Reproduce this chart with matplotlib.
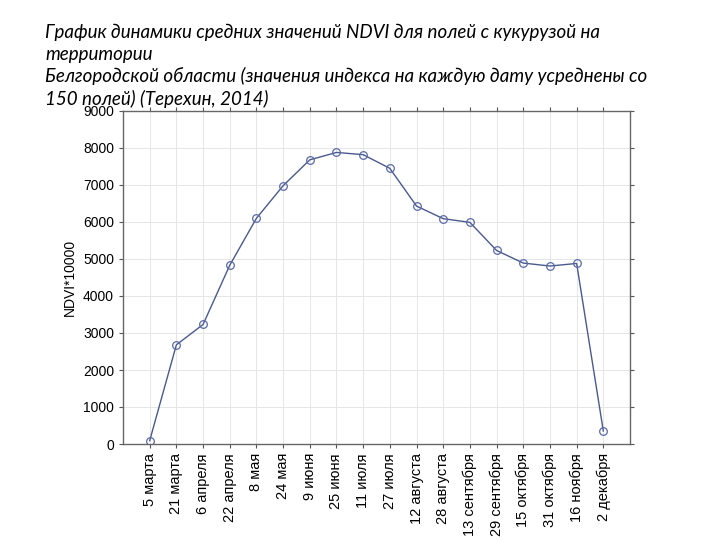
import numpy as np
import matplotlib
matplotlib.use("Agg")
import matplotlib.pyplot as plt

dates = ["5 марта", "21 марта", "6 апреля", "22 апреля", "8 мая", "24 мая",
         "9 июня", "25 июня", "11 июля", "27 июля", "12 августа", "28 августа",
         "13 сентября", "29 сентября", "15 октября", "31 октября", "16 ноября",
         "2 декабря"]
ndvi = [90, 2680, 3230, 4830, 6100, 6980, 7680, 7880, 7820, 7450, 6430,
        6090, 5990, 5230, 4890, 4810, 4880, 350]

title = ("График динамики средних значений NDVI для полей с кукурузой на\n"
         "территории\n"
         "Белгородской области (значения индекса на каждую дату усреднены со\n"
         "150 полей) (Терехин, 2014)")

plt.rcParams['font.family'] = ['Liberation Sans', 'DejaVu Sans']

fig = plt.figure(figsize=(7.2, 5.4), dpi=100)
ax = fig.add_axes([123/720, 1 - 444/540, (630-123)/720, (444-111)/540])

x = np.arange(len(dates))
ax.plot(x, ndvi, color="#4a5a8c", lw=1.0, marker="o", ms=5.5,
        mfc="none", mec="#5a6aa8", mew=0.9)

ax.set_xlim(-1, len(dates))
ax.set_ylim(0, 9000)
ax.set_yticks(np.arange(0, 9001, 1000))
ax.set_xticks(x)
ax.set_xticklabels(dates, rotation=90, fontsize=10.5)
ax.tick_params(axis='y', labelsize=10)
ax.tick_params(top=True, right=True, length=3, color="#555555")
ax.grid(True, color="#e6e6e6", lw=0.7)
ax.set_axisbelow(True)
for s in ax.spines.values():
    s.set_color("#666666")
    s.set_linewidth(1.0)
ax.set_ylabel("NDVI*10000", fontsize=10, labelpad=4)

fig.text(45/720, 1 - 24/540, title, ha="left", va="top", fontsize=13.5,
         style="italic", family=["Lato", "DejaVu Sans"], linespacing=1.3)

fig.savefig("out.png", dpi=100)
